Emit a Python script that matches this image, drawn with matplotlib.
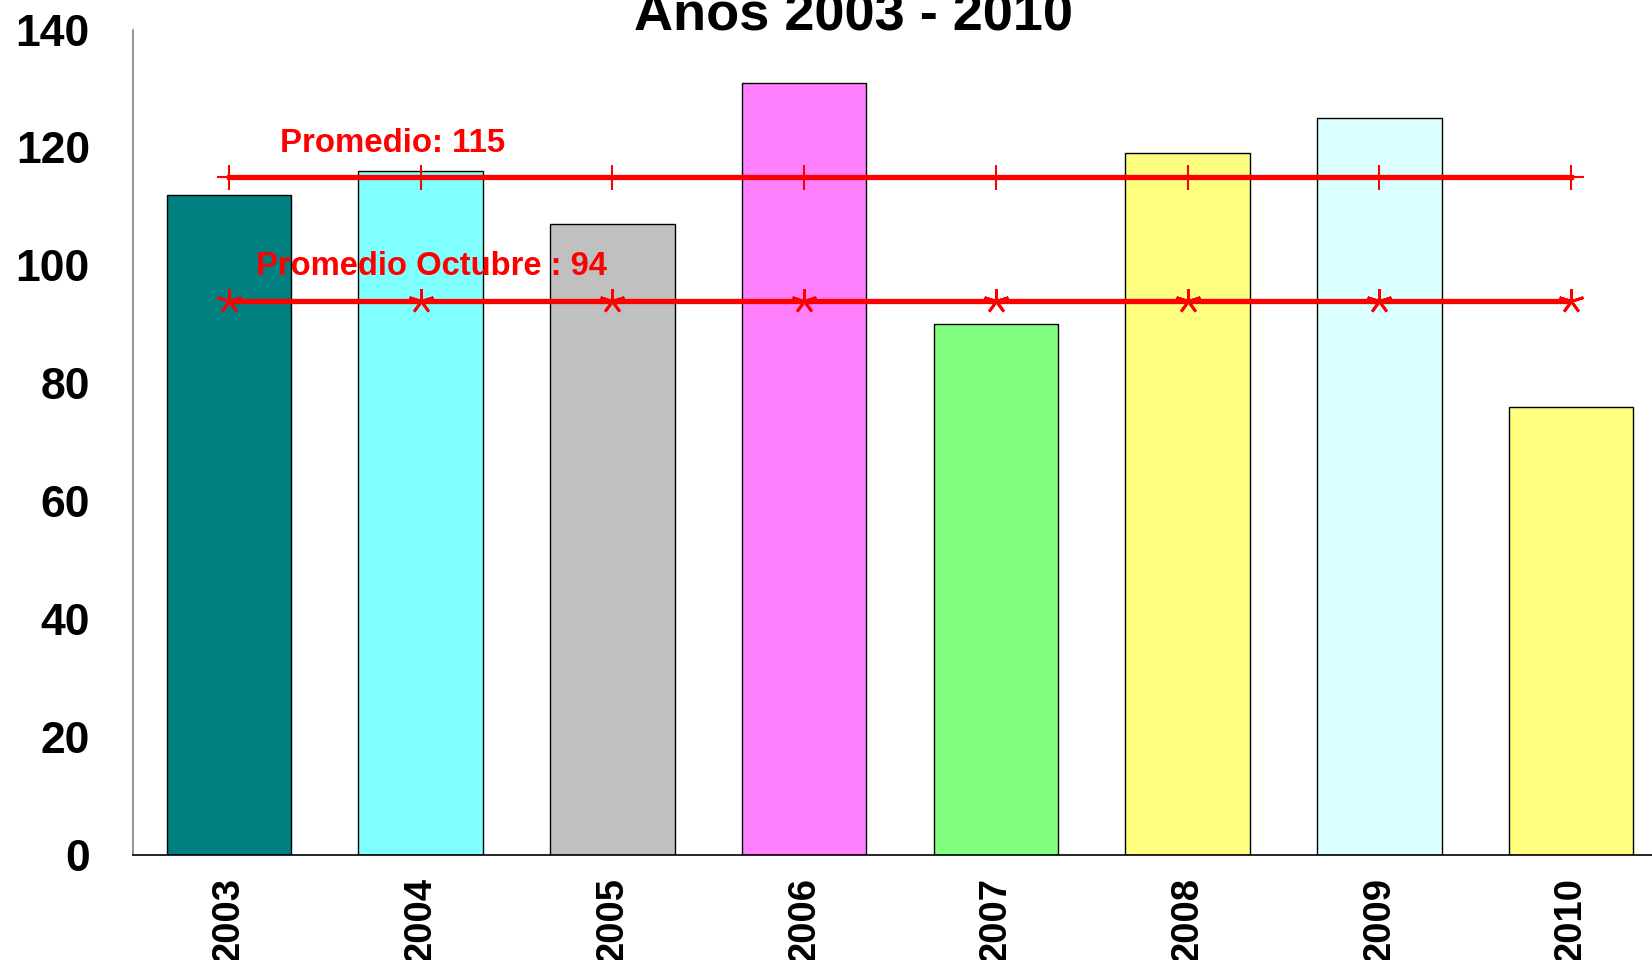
import numpy as np
import matplotlib
matplotlib.use('Agg')
import matplotlib.pyplot as plt

plt.rcParams['font.family'] = ['Liberation Sans', 'DejaVu Sans']
plt.rcParams['font.weight'] = 'bold'

# Data
years = ['2003', '2004', '2005', '2006', '2007', '2008', '2009', '2010']
values = [112, 116, 107, 131, 90, 119, 125, 76]
bar_colors = ['#008080', '#80FFFF', '#C0C0C0', '#FF80FF',
              '#80FF80', '#FFFF80', '#DCFFFF', '#FFFF80']
promedio = 115
promedio_octubre = 94

fig = plt.figure(figsize=(16.52, 9.6), dpi=100)
ax = fig.add_axes([133 / 1652, 105 / 960, 1534 / 1652, 825.5 / 960])

x = np.arange(len(years))
ax.bar(x, values, width=0.65, color=bar_colors, edgecolor='black', linewidth=1)

# Average lines
ax.plot(x, [promedio] * len(x), color='red', linewidth=3.8,
        marker='+', markersize=18, markeredgewidth=1.5)
ax.plot(x, [promedio_octubre] * len(x), color='red', linewidth=3.8,
        marker=(5, 2, 0), markersize=18, markeredgewidth=2)

ax.text(0.266, 119.3, 'Promedio: %d' % promedio, color='red',
        fontsize=23.8, fontweight='bold', va='baseline', ha='left')
ax.text(0.141, 98.3, 'Promedio Octubre : %d' % promedio_octubre, color='red',
        fontsize=23.6, fontweight='bold', va='baseline', ha='left')

ax.set_xlim(-0.5, 7.5)
ax.set_ylim(0, 140)
ax.set_yticks(np.arange(0, 141, 20))
ax.set_xticks(x)
ax.set_xticklabels(years, rotation=90, va='top', ha='center')

ax.tick_params(axis='y', length=0, pad=31, labelsize=32)
ax.tick_params(axis='x', length=0, pad=16, labelsize=27.5)
for lbl in ax.get_yticklabels() + ax.get_xticklabels():
    lbl.set_fontweight('bold')

ax.spines['top'].set_visible(False)
ax.spines['right'].set_visible(False)
ax.spines['left'].set_color('#808080')
ax.spines['left'].set_linewidth(1.2)
ax.spines['bottom'].set_color('black')
ax.spines['bottom'].set_linewidth(1.2)

# Title (partly cut off at the top, as in the original)
fig.text(854 / 1652, 1 - 30 / 960, 'Años 2003 - 2010', fontsize=39,
         fontweight='bold', ha='center', va='baseline')

fig.savefig('out.png', dpi=100)
